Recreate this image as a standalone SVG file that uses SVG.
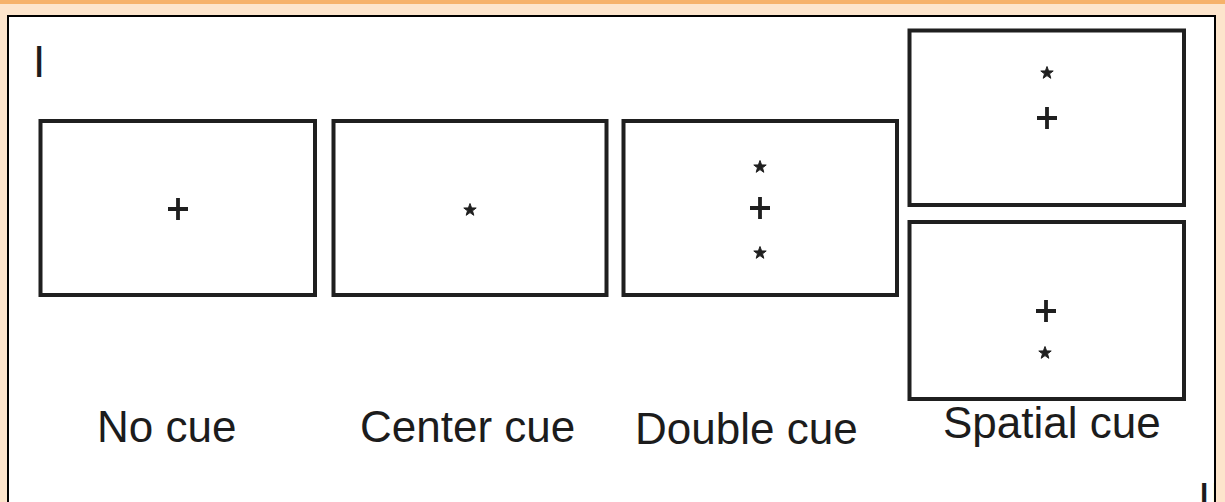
<svg xmlns="http://www.w3.org/2000/svg" width="1225" height="502" viewBox="0 0 1225 502">
  <defs>
    <style>
      .box { fill: #ffffff; stroke: #1f1f1f; stroke-width: 4; }
      .lbl { font-family: "Liberation Sans", Arial, sans-serif; font-size: 44px; fill: #1c1c1c; }
      .plus { stroke: #1f1f1f; stroke-width: 3.8; fill: none; }
      .star { fill: #1f1f1f; stroke: #1f1f1f; stroke-width: 1; stroke-linejoin: round; }
    </style>
    <g id="plusSym"><path class="plus" d="M-10 0 H10 M0 -11 V11"/></g>
    <g id="starSym"><polygon class="star" points="0,-6.5 1.6,-2.1 6.2,-2 2.5,0.8 3.8,5.3 0,2.6 -3.8,5.3 -2.5,0.8 -6.2,-2 -1.6,-2.1"/></g>
    <clipPath id="inner"><rect x="8" y="16" width="1206" height="486"/></clipPath>
  </defs>

  <rect x="0" y="0" width="1225" height="502" fill="#fde5cc"/>
  <rect x="0" y="0" width="1225" height="4" fill="#f6b26b"/>
  <rect x="8" y="16" width="1207" height="490" fill="#ffffff" stroke="#000000" stroke-width="2"/>

  <g clip-path="url(#inner)">
    <text class="lbl" x="33" y="77">I</text>
    <text class="lbl" x="1198" y="514">II</text>
  </g>

  <g id="no-cue">
    <rect class="box" x="40.5" y="121" width="274.5" height="174"/>
    <use href="#plusSym" x="178" y="209"/>
    <text class="lbl" x="97" y="442">No cue</text>
  </g>

  <g id="center-cue">
    <rect class="box" x="333.5" y="121" width="273" height="174"/>
    <use href="#starSym" x="470" y="210"/>
    <text class="lbl" x="360" y="442">Center cue</text>
  </g>

  <g id="double-cue">
    <rect class="box" x="623.5" y="121" width="273.5" height="174"/>
    <use href="#starSym" x="760" y="167"/>
    <use href="#plusSym" x="760" y="208"/>
    <use href="#starSym" x="760" y="253"/>
    <text class="lbl" x="635" y="444">Double cue</text>
  </g>

  <g id="spatial-cue">
    <rect class="box" x="909.5" y="30.5" width="274.5" height="174.5"/>
    <use href="#starSym" x="1047" y="73"/>
    <use href="#plusSym" x="1047" y="118"/>
    <rect class="box" x="909.5" y="222" width="274.5" height="177"/>
    <use href="#plusSym" x="1046" y="311"/>
    <use href="#starSym" x="1045" y="353"/>
    <text class="lbl" x="943" y="438">Spatial cue</text>
  </g>

  <g id="connectors"/>
</svg>
